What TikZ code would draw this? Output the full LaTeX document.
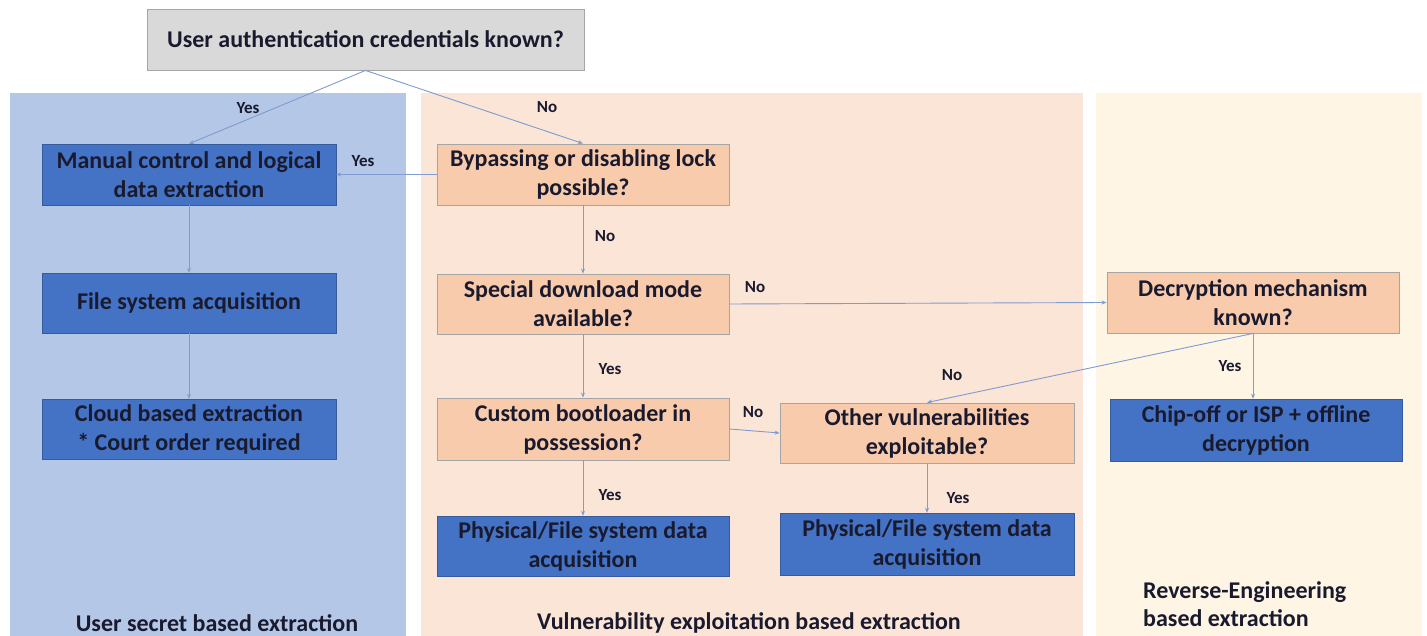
\documentclass[tikz,border=0pt]{standalone}
\usepackage{fontspec}
\setmainfont{Carlito}
\usetikzlibrary{arrows.meta}
\definecolor{panelblue}{HTML}{B4C7E7}
\definecolor{panelpeach}{HTML}{FBE5D6}
\definecolor{panelcream}{HTML}{FEF5E5}
\definecolor{boxblue}{HTML}{4472C4}
\definecolor{boxpeach}{HTML}{F8CBAD}
\definecolor{boxgray}{HTML}{D9D9D9}
\definecolor{edgegray}{HTML}{A5A5A5}
\definecolor{arrowcol}{HTML}{7F9BD0}
\definecolor{txt}{HTML}{1A1A2E}
\begin{document}
\begin{tikzpicture}[x=1pt,y=-1pt,
  every node/.style={font=\fontsize{24}{29}\selectfont\bfseries, text=txt, align=center, inner sep=0pt},
  bluebox/.style={fill=boxblue, draw=boxblue!80!black, line width=0.4pt},
  peachbox/.style={fill=boxpeach, draw=edgegray, line width=0.9pt},
  graybox/.style={fill=boxgray, draw=edgegray, line width=0.9pt},
  conn/.style={draw=arrowcol, line width=0.9pt, -{Stealth[length=5pt,width=4pt]}},
  lbl/.style={font=\fontsize{17}{20}\selectfont\bfseries},
  paneltxt/.style={font=\fontsize{24}{28}\selectfont\bfseries}
]
\useasboundingbox (0,0) rectangle (1427,636);
\fill[white] (0,0) rectangle (1427,636);
% panels
\fill[panelblue] (10,93) rectangle (406,636);
\fill[panelpeach] (421,93) rectangle (1083,636);
\fill[panelcream] (1096,93) rectangle (1422,636);

% nodes
\node[graybox, minimum width=437pt, minimum height=61pt] (top) at (365.5,39.5) {User authentication credentials known?};
\node[bluebox, minimum width=294pt, minimum height=61pt] (manual) at (189,174.5) {Manual control and logical\\data extraction};
\node[bluebox, minimum width=294pt, minimum height=60pt] (fs) at (189,303) {File system acquisition};
\node[bluebox, minimum width=294pt, minimum height=60pt] (cloud) at (189,429) {Cloud based extraction\\* Court order required};
\node[peachbox, minimum width=292pt, minimum height=61pt] (bypass) at (583,174.5) {Bypassing or disabling lock\\possible?};
\node[peachbox, minimum width=292pt, minimum height=60pt] (special) at (583,304) {Special download mode\\available?};
\node[peachbox, minimum width=292pt, minimum height=62pt] (custom) at (583,429) {Custom bootloader in\\possession?};
\node[bluebox, minimum width=292pt, minimum height=60pt] (phys1) at (583,546) {Physical/File system data\\acquisition};
\node[peachbox, minimum width=294pt, minimum height=60pt] (other) at (927,433) {Other vulnerabilities\\exploitable?};
\node[bluebox, minimum width=294pt, minimum height=62pt] (phys2) at (927,544) {Physical/File system data\\acquisition};
\node[peachbox, minimum width=292pt, minimum height=61pt] (decrypt) at (1253,302.5) {Decryption mechanism\\known?};
\node[bluebox, minimum width=292pt, minimum height=62pt] (chip) at (1256,430) {Chip-off or ISP + offline\\decryption};

% panel captions
\node[paneltxt] (cap1) at (217,623) {User secret based extraction};
\node[paneltxt] (cap2) at (749,623) {Vulnerability exploitation based extraction};
\node[paneltxt, align=left, anchor=west] (cap3) at (1143,604) {Reverse-Engineering\\based extraction};

% connectors
\draw[conn] (top.south) -- (manual.north);
\draw[conn] (top.south) -- (bypass.north);
\draw[conn] (bypass.west) -- (manual.east);
\draw[conn] (bypass.south) -- (special.north);
\draw[conn] (special.east) -- (decrypt.west);
\draw[conn] (special.south) -- (custom.north);
\draw[conn] (custom.east) -- (other.west);
\draw[conn] (custom.south) -- (phys1.north);
\draw[conn] (decrypt.south) -- (other.north);
\draw[conn] (decrypt.south) -- (decrypt.south |- chip.north);
\draw[conn] (other.south) -- (phys2.north);
\draw[conn] (manual.south) -- (fs.north);
\draw[conn] (fs.south) -- (cloud.north);

% edge labels
\node[lbl] (l1) at (248,108) {Yes};
\node[lbl] (l2) at (547,107) {No};
\node[lbl] (l3) at (363,161) {Yes};
\node[lbl] (l4) at (605,236) {No};
\node[lbl] (l5) at (755,287) {No};
\node[lbl] (l6) at (610,369) {Yes};
\node[lbl] (l7) at (753,412) {No};
\node[lbl] (l8) at (610,495) {Yes};
\node[lbl] (l9) at (952,375) {No};
\node[lbl] (l10) at (1230,366) {Yes};
\node[lbl] (l11) at (958,498) {Yes};
\end{tikzpicture}
\end{document}
